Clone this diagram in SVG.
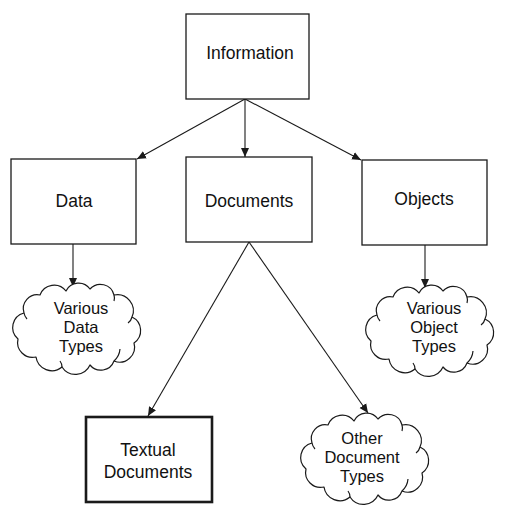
<svg xmlns="http://www.w3.org/2000/svg" width="507" height="515" viewBox="0 0 507 515">
<style>
.box{fill:#fff;stroke:#1a1a1a;stroke-width:1.3}
.thick{fill:#fff;stroke:#1a1a1a;stroke-width:2.6}
.cloud{fill:#fff;stroke:#1a1a1a;stroke-width:1.2;stroke-linejoin:round}
.inner{fill:none;stroke:#1a1a1a;stroke-width:1.2}
.lbl{font-family:"Liberation Sans",Arial,sans-serif;font-size:17.5px;fill:#111;text-anchor:middle}
.cl{font-size:16.5px}
.conn line{stroke:#1a1a1a;stroke-width:1.1;marker-end:url(#arr)}
</style>
<defs>
<marker id="arr" markerUnits="userSpaceOnUse" markerWidth="10" markerHeight="10" viewBox="0 0 10 10" refX="9" refY="5" orient="auto">
<path d="M0,1 L9,5 L0,9 Z" fill="#1a1a1a"/>
</marker>
<g id="cloudShape">
<path class="cloud" d="M14,30 A14,14 0 0 1 30,12 A15,15 0 0 1 56,8 A14,14 0 0 1 80,6 A14,14 0 0 1 104,12 A16,16 0 0 1 122,34 A15,15 0 0 1 124,60 A15,15 0 0 1 104,78 A14,14 0 0 1 80,82 A16,16 0 0 1 52,84 A16,16 0 0 1 26,74 A15,15 0 0 1 8,56 A15,15 0 0 1 14,30 Z"/>
<path class="inner" d="M14,30 A12,12 0 0 0 17,36 M104,78 A18,18 0 0 0 110,66 M52,84 A10,10 0 0 0 50,78 M104,12 A10,10 0 0 1 104,18 M122,34 A10,10 0 0 1 118,40"/>
</g>
</defs>

<g class="conn" id="connectors">
<line x1="245" y1="99" x2="137" y2="159"/>
<line x1="245" y1="99" x2="245" y2="157"/>
<line x1="245" y1="99" x2="361" y2="160"/>
<line x1="73" y1="244" x2="73" y2="287"/>
<line x1="425" y1="245" x2="425" y2="288"/>
<line x1="249" y1="242" x2="148" y2="416"/>
<line x1="249" y1="242" x2="368" y2="413"/>
</g>

<g id="information">
<rect class="box" x="186" y="14" width="123" height="85"/>
<text class="lbl" x="250" y="59">Information</text>
</g>
<g id="data">
<rect class="box" x="11" y="159" width="125" height="85"/>
<text class="lbl" x="74" y="207">Data</text>
</g>
<g id="documents">
<rect class="box" x="186" y="157" width="126" height="85"/>
<text class="lbl" x="249" y="207">Documents</text>
</g>
<g id="objects">
<rect class="box" x="362" y="160" width="125" height="85"/>
<text class="lbl" x="424" y="205">Objects</text>
</g>
<g id="various-data">
<use href="#cloudShape" transform="translate(10,283)"/>
<text class="lbl cl" x="81" y="314">Various</text>
<text class="lbl cl" x="81" y="333">Data</text>
<text class="lbl cl" x="81" y="352">Types</text>
</g>
<g id="various-object">
<use href="#cloudShape" transform="translate(363,285)"/>
<text class="lbl cl" x="434" y="314">Various</text>
<text class="lbl cl" x="434" y="333">Object</text>
<text class="lbl cl" x="434" y="352">Types</text>
</g>
<g id="textual">
<rect class="thick" x="86" y="417" width="126" height="85"/>
<text class="lbl" x="148" y="456">Textual</text>
<text class="lbl" x="148" y="478">Documents</text>
</g>
<g id="other">
<use href="#cloudShape" transform="translate(298,413)"/>
<text class="lbl cl" x="362" y="444">Other</text>
<text class="lbl cl" x="362" y="463">Document</text>
<text class="lbl cl" x="362" y="482">Types</text>
</g>
</svg>
